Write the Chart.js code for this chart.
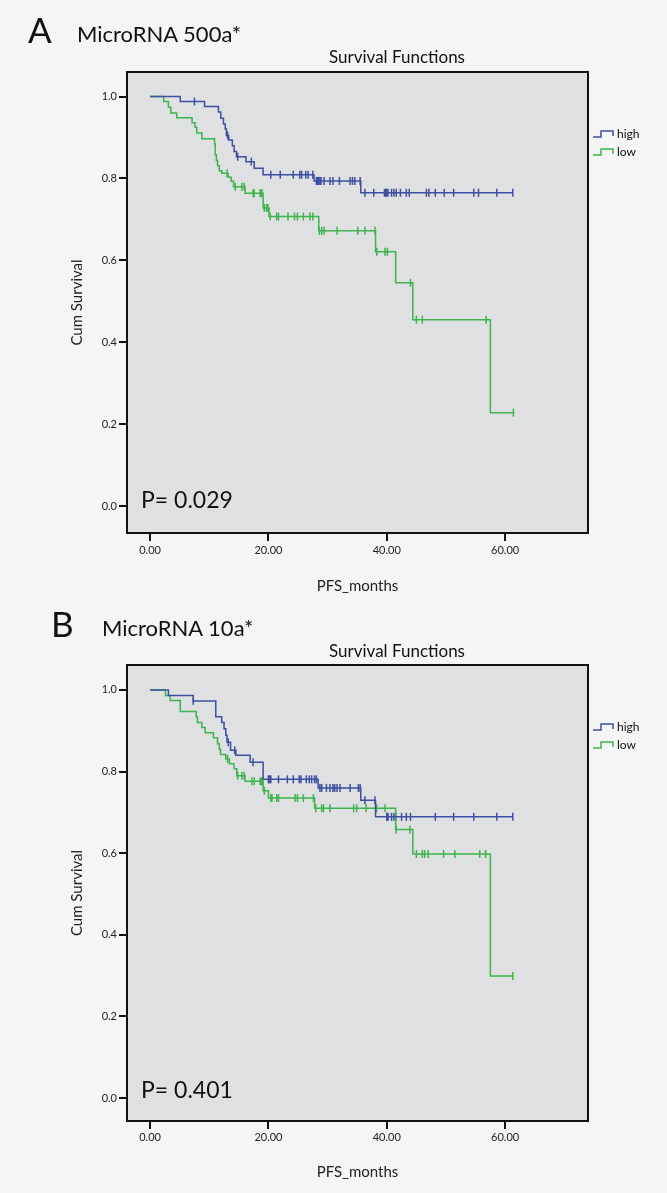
<!DOCTYPE html>
<html>
<head>
<meta charset="utf-8">
<title>Survival Functions</title>
<script src="https://cdn.jsdelivr.net/npm/chart.js@4.4.1/dist/chart.umd.min.js"></script>
<style>
    body { margin: 0; background: #f5f5f5; font-family: Lato, sans-serif; color: #111; }
    .panel { position: absolute; left: 0; width: 667px; }
    .panel canvas { position: absolute; left: 0; top: 0; }
    .letter { position: absolute; font-size: 35px; line-height: 1; }
    .heading { position: absolute; font-size: 22px; line-height: 1; white-space: nowrap; }
    .subtitle { position: absolute; font-size: 17px; line-height: 1; white-space: nowrap; transform: translateX(-50%); }
</style>
</head>
<body>
<div class="panel" style="top:0;height:595px">
    <canvas id="chartA" width="667" height="595"></canvas>
    <div class="letter" style="left:28px;top:12px">A</div>
    <div class="heading" style="left:77px;top:23px">MicroRNA 500a*</div>
    <div class="subtitle" style="left:397px;top:48px">Survival Functions</div>
</div>
<div class="panel" style="top:595px;height:598px">
    <canvas id="chartB" width="667" height="598"></canvas>
    <div class="letter" style="left:51px;top:11px">B</div>
    <div class="heading" style="left:102px;top:22px">MicroRNA 10a*</div>
    <div class="subtitle" style="left:397px;top:47px">Survival Functions</div>
</div>
<script>
//############################ Data ############################
const groupLabels = ['high', 'low'];
const xTicks = [0, 20, 40, 60];
const yTicks = [0, 0.2, 0.4, 0.6, 0.8, 1.0];
const pLabels = ['P= 0.029', 'P= 0.401'];

// Panel A - MicroRNA 500a*, group "high"
const aHighTime = [0, 5.1, 9.2, 11.55, 11.95, 12.4, 12.7, 12.9, 13.3, 13.9, 14.2, 14.6, 16.2, 17.6, 19.1, 27.7, 35.6];
const aHighSurv = [1.0, 0.988, 0.976, 0.962, 0.947, 0.933, 0.921, 0.905, 0.894, 0.880, 0.866, 0.853, 0.841, 0.825, 0.809, 0.794, 0.765];
const aHighCensor = [7.5, 13.1, 14.8, 17.1, 20.4, 22.0, 24.2, 25.3, 25.6, 26.3, 26.7, 27.5,
    28.1, 28.3, 28.5, 28.7, 28.9, 29.4, 30.4, 30.9, 32.0, 33.8, 34.2, 34.6, 35.5,
    36.3, 37.8, 39.6, 39.8, 40.0, 40.2, 40.8, 41.2, 41.6, 42.3, 43.3, 43.8, 46.7, 47.1,
    48.2, 49.7, 51.3, 54.7, 55.5, 58.6, 61.3];

// Panel A - MicroRNA 500a*, group "low"
const aLowTime = [0, 2.3, 3.1, 3.5, 4.5, 7.1, 7.6, 7.9, 8.75, 10.9, 11.0, 11.2, 11.4, 11.7, 12.1, 13.2, 13.7, 14.1, 16.05, 19.1, 20.1, 28.5, 38.1, 41.5, 44.4, 57.5];
const aLowSurv = [1.0, 0.988, 0.974, 0.960, 0.948, 0.936, 0.925, 0.911, 0.897, 0.884, 0.858, 0.844, 0.831, 0.819, 0.813, 0.803, 0.793, 0.780, 0.764, 0.728, 0.707, 0.672, 0.621, 0.545, 0.455, 0.228];
const aLowCensor = [13.0, 14.4, 15.5, 15.9, 17.4, 17.6, 18.6, 18.8, 18.9, 19.3, 19.7, 19.9,
    20.3, 21.4, 21.7, 23.3, 24.4, 24.9, 25.9, 27.0, 27.5, 28.6, 29.0, 29.4, 31.6, 35.1,
    36.3, 38.0, 38.3, 39.7, 40.1, 44.0, 45.0, 46.0, 56.8, 61.4];

// Panel B - MicroRNA 10a*, group "high"
const bHighTime = [0, 3.1, 7.3, 11.1, 12.1, 12.5, 12.8, 13.0, 13.6, 14.5, 16.9, 19.1, 28.4, 35.6, 38.1];
const bHighSurv = [1.0, 0.986, 0.973, 0.934, 0.920, 0.905, 0.889, 0.872, 0.852, 0.840, 0.823, 0.781, 0.760, 0.730, 0.689];
const bHighCensor = [7.3, 13.2, 14.3, 17.4, 20.0, 20.2, 20.4, 21.7, 23.2, 24.2, 25.2, 25.5,
    26.4, 26.9, 27.3, 27.8, 28.1, 28.7, 29.0, 29.8, 30.4, 30.9, 31.2, 31.6, 32.1, 33.8,
    35.2, 35.5, 36.3, 38.0, 40.0, 40.1, 40.2, 40.8, 41.2, 41.5, 42.5, 43.3, 44.0, 48.2,
    51.3, 54.7, 58.6, 61.3];

// Panel B - MicroRNA 10a*, group "low"
const bLowTime = [0, 2.6, 3.4, 5.1, 7.8, 8.0, 8.75, 9.3, 10.7, 11.4, 11.7, 11.9, 12.8, 13.4, 14.2, 14.65, 16.05, 19.1, 20.0, 27.8, 41.5, 44.4, 57.5];
const bLowSurv = [1.0, 0.986, 0.974, 0.947, 0.934, 0.920, 0.908, 0.895, 0.883, 0.868, 0.854, 0.842, 0.831, 0.819, 0.807, 0.790, 0.776, 0.753, 0.735, 0.710, 0.658, 0.598, 0.299];
const bLowCensor = [13.1, 14.8, 15.5, 15.9, 17.2, 17.6, 18.6, 18.8, 19.0, 19.3, 20.4, 20.6,
    21.4, 21.7, 24.5, 24.9, 25.9, 27.6, 28.0, 29.0, 29.3, 30.4, 34.4, 34.9, 36.5, 38.3,
    39.7, 41.6, 43.9, 45.0, 46.0, 46.4, 47.0, 49.6, 51.5, 55.7, 56.7, 61.3];

//############################ Styling ############################
const BLUE = '#3d4fa1';
const GREEN = '#3db44c';
const PLOT_BG = '#dfe0e2';
const FONT = 'Lato, "Open Sans", sans-serif';

// survival value of a step curve at time t
const survAt = (times, surv, t) => {
    let s = surv[0];
    times.forEach((tt, i) => { if (tt <= t) s = surv[i]; });
    return s;
};

const curveData = (times, surv, censor) => {
    const pts = times.map((t, i) => ({ x: t, y: surv[i] }));
    const last = censor[censor.length - 1];
    if (last > times[times.length - 1]) pts.push({ x: last, y: surv[surv.length - 1] });
    return pts;
};

const censorData = (times, surv, censor) => censor.map(t => ({ x: t, y: survAt(times, surv, t) }));

//################# Plugin: grey plot box, frame, legend and p value #################
const kmFrame = {
    id: 'kmFrame',
    beforeDraw(chart) {
        const { ctx, chartArea: a } = chart;
        ctx.save();
        ctx.fillStyle = PLOT_BG;
        ctx.fillRect(a.left, a.top, a.right - a.left, a.bottom - a.top);
        ctx.restore();
    },
    afterDraw(chart, args, opts) {
        const { ctx, chartArea: a } = chart;
        ctx.save();
        ctx.strokeStyle = '#111';
        ctx.lineWidth = 2;
        ctx.strokeRect(a.left, a.top, a.right - a.left, a.bottom - a.top);

        // p value
        ctx.fillStyle = '#111';
        ctx.font = '23px ' + FONT;
        ctx.textBaseline = 'alphabetic';
        ctx.fillText(opts.pText, a.left + 14, a.bottom - opts.pLift);

        // legend with the small step symbol
        ctx.font = '12px ' + FONT;
        ctx.textBaseline = 'middle';
        let row = 0;
        chart.data.datasets.forEach(ds => {
            if (!ds.isCurve) return;
            const y = a.top + 62 + row * 18;
            const x0 = a.right + 5;
            ctx.strokeStyle = ds.borderColor;
            ctx.lineWidth = 1.5;
            ctx.beginPath();
            ctx.moveTo(x0, y + 3);
            ctx.lineTo(x0 + 8, y + 3);
            ctx.lineTo(x0 + 8, y - 3);
            ctx.lineTo(x0 + 20, y - 3);
            ctx.lineTo(x0 + 20, y + 2);
            ctx.stroke();
            ctx.fillStyle = '#111';
            ctx.fillText(ds.label, x0 + 24, y);
            row++;
        });
        ctx.restore();
    }
};

//############################ Function to create a panel ############################
const createPanel = (canvasId, high, low, pText, geo) => {
    const canvas = document.getElementById(canvasId);
    const H = canvas.height;
    const groups = [high, low];
    const colors = [BLUE, GREEN];
    const datasets = [];

    groups.forEach((g, i) => {
        datasets.push({
            label: groupLabels[i],
            isCurve: true,
            data: curveData(g.time, g.surv, g.censor),
            showLine: true,
            stepped: 'before',
            borderColor: colors[i],
            borderWidth: 1.5,
            pointRadius: 0,
            fill: false,
        });
    });
    groups.forEach((g, i) => {
        datasets.push({
            label: groupLabels[i] + ' censored',
            data: censorData(g.time, g.surv, g.censor),
            showLine: false,
            pointStyle: 'line',
            rotation: 90,
            pointRadius: 4,
            borderColor: colors[i],
            borderWidth: 1.5,
        });
    });

    const tickFont = { family: FONT, size: 11 };
    const titleFont = { family: FONT, size: 15 };

    return new Chart(canvas, {
        type: 'scatter',
        data: { datasets },
        options: {
            responsive: false,
            animation: false,
            events: [],
            layout: { padding: { top: geo.top, right: 79, left: 0, bottom: 0 } },
            plugins: {
                legend: { display: false },
                tooltip: { enabled: false },
                kmFrame: { pText, pLift: geo.pLift },
            },
            scales: {
                x: {
                    type: 'linear',
                    min: -3.9,
                    max: 74,
                    afterFit: s => { s.height = H - geo.bottom; },
                    afterBuildTicks: s => { s.ticks = xTicks.map(v => ({ value: v })); },
                    ticks: { callback: v => Number(v).toFixed(2), font: tickFont, color: '#222', padding: geo.labelPad, maxRotation: 0, autoSkip: false },
                    grid: { drawOnChartArea: false, drawTicks: true, tickLength: 8, color: '#111', lineWidth: 2 },
                    border: { display: false },
                    title: { display: true, text: 'PFS_months', font: titleFont, color: '#222', padding: { top: 0, bottom: geo.titlePad } },
                },
                y: {
                    type: 'linear',
                    min: geo.yMin,
                    max: geo.yMax,
                    afterFit: s => { s.width = 127; },
                    afterBuildTicks: s => { s.ticks = yTicks.map(v => ({ value: v })); },
                    ticks: { callback: v => Number(v).toFixed(1), font: tickFont, color: '#222', padding: 2, autoSkip: false },
                    grid: { drawOnChartArea: false, drawTicks: true, tickLength: 8, color: '#111', lineWidth: 2 },
                    border: { display: false },
                    title: { display: true, text: 'Cum Survival', font: titleFont, color: '#222', padding: { top: 68, bottom: 0 } },
                },
            },
        },
        plugins: [kmFrame],
    });
};

//################# Build both panels #################
createPanel('chartA',
    { time: aHighTime, surv: aHighSurv, censor: aHighCensor },
    { time: aLowTime, surv: aLowSurv, censor: aLowCensor },
    pLabels[0],
    { top: 72, bottom: 533, yMin: -0.066, yMax: 1.06, labelPad: 3, titlePad: 0, pLift: 25 });

createPanel('chartB',
    { time: bHighTime, surv: bHighSurv, censor: bHighCensor },
    { time: bLowTime, surv: bLowSurv, censor: bLowCensor },
    pLabels[1],
    { top: 70, bottom: 526, yMin: -0.056, yMax: 1.061, labelPad: 2, titlePad: 12, pLift: 23 });
</script>
</body>
</html>
